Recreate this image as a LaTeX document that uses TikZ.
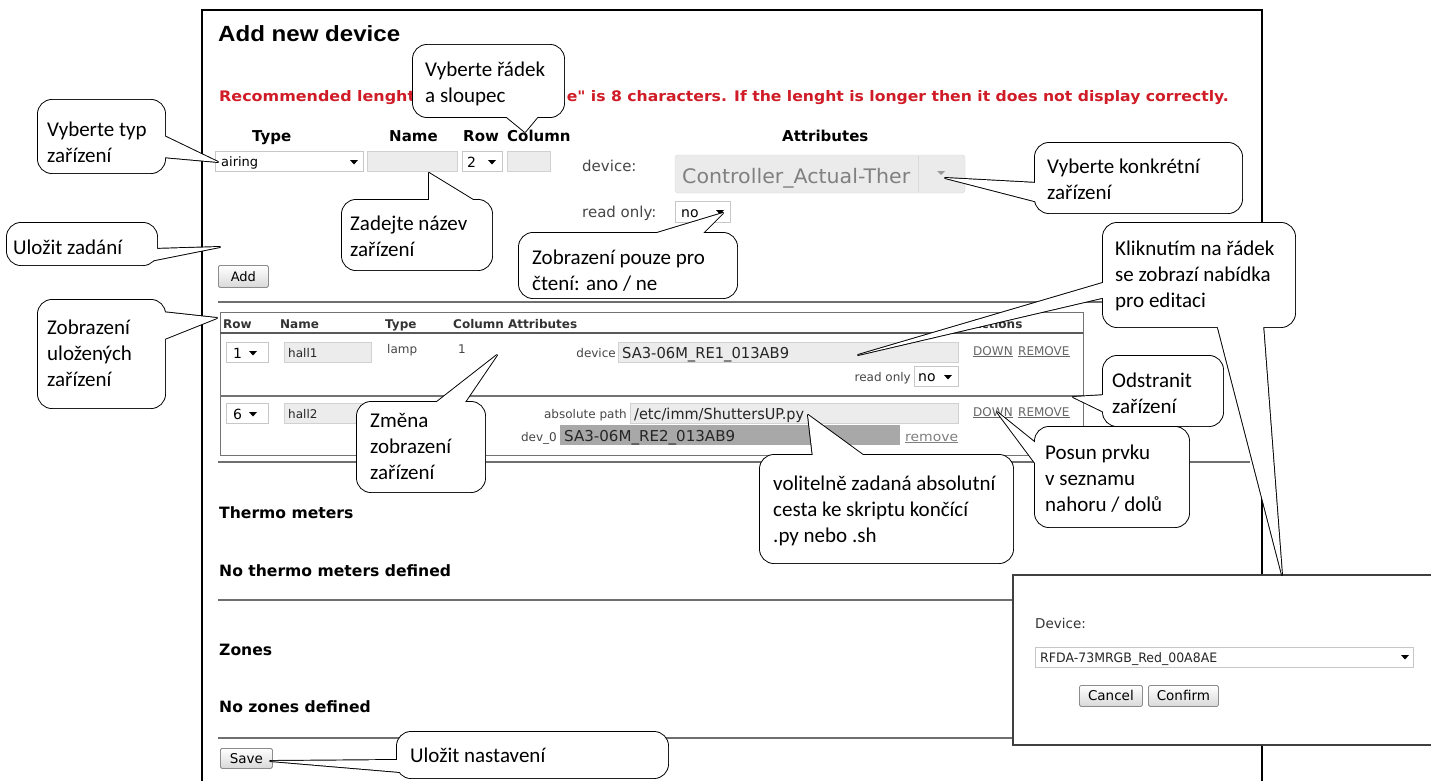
\documentclass[tikz,border=0pt]{standalone}
\usepackage{fontspec}
\usepackage{graphicx}
\setmainfont{Liberation Sans}
\newfontfamily\calfont{Carlito}
\newfontfamily\verfont{DejaVu Sans}
\usetikzlibrary{calc}
\definecolor{warnred}{RGB}{208,28,38}
\definecolor{sepgray}{RGB}{110,110,110}
\definecolor{fieldgray}{RGB}{236,236,236}
\definecolor{darkfield}{RGB}{168,168,168}
\definecolor{txtgray}{RGB}{70,70,70}
\newcommand\fitw[2]{\resizebox{#1pt}{\height}{#2}}
\newcommand\fs[2]{\fontsize{#1}{#2}\selectfont}
\newcommand\darr[3][black]{\fill[#1] ({#2-4},{#3-2}) -- ({#2+4},{#3-2}) -- (#2,{#3+2.5}) -- cycle;}
\newcommand\callout[2]{%
 \draw[cstroke, rounded corners=14pt] #1;
 \draw[cstroke] #2 -- cycle;
 \fill[white, rounded corners=14pt] #1;
 \fill[white] #2 -- cycle;}
\begin{document}
\begin{tikzpicture}[x=1pt, y=-1pt,
 cstroke/.style={draw=black, line width=1.9pt, line join=round},
 ctext/.style={font=\calfont\fs{21}{26}, align=left, inner sep=0pt, anchor=north west},
 ptxt/.style={inner sep=0pt, anchor=base west},
 field/.style={fill=fieldgray, draw=black!18, line width=0.8pt},
 sel/.style={fill=white, draw=black!22, line width=0.8pt},
 sepline/.style={draw=sepgray, line width=2.4pt},
 btn/.style={draw=black!45, line width=0.8pt, top color=white, bottom color=black!15, rounded corners=1.5pt, inner sep=0pt, anchor=north west},
 hdr/.style={inner sep=0pt, anchor=base west, font=\verfont\bfseries\fs{15}{18}},
 thdr/.style={inner sep=0pt, anchor=base west, font=\verfont\bfseries\fs{12}{14}, text=black!80},
 small/.style={inner sep=0pt, anchor=base west, font=\verfont\fs{12}{14}, text=txtgray},
 lbl/.style={inner sep=0pt, anchor=base east, font=\verfont\fs{12}{14}, text=txtgray},
 link/.style={inner sep=0pt, anchor=base west, font=\verfont\fs{12}{14}, text=black!60},
 big/.style={inner sep=0pt, anchor=base west, font=\verfont\bfseries\fs{15.6}{18}},
 warn/.style={inner sep=0pt, font=\verfont\bfseries\fs{14.5}{17}, text=warnred},
]
\useasboundingbox (0,0) rectangle (1431,781);
\fill[white] (0,0) rectangle (1431,781);

% page frame
\draw[line width=2pt] (202,783) -- (202,10) -- (1262,10) -- (1262,783);

% title and warning
\node[ptxt, font=\bfseries\fs{22}{26}] (title) at (218,42) {\fitw{182}{Add new device}};
\node[warn, anchor=base west] (warnA) at (219,102) {\fitw{196}{Recommended lenght}};
\node[warn, anchor=base east] (warnB) at (1229,102) {\fitw{662}{e" is 8 characters. If the lenght is longer then it does not display correctly.}};

% form header
\node[hdr] (hType) at (252,142) {Type};
\node[hdr] (hName) at (389,142) {Name};
\node[hdr] (hRow) at (463,142) {Row};
\node[hdr] (hCol) at (507,142) {Column};
\node[hdr] (hAttr) at (782,142) {Attributes};

% form inputs
\draw[sel] (215,151) rectangle (363,171);
\node[ptxt, font=\verfont\fs{13}{15}] (airing) at (221,166) {airing};
\darr{354}{162}
\draw[field] (367,151) rectangle (457,171);
\draw[sel] (462,151) rectangle (502,171);
\node[ptxt, font=\verfont\fs{14}{16}] (rowsel) at (467,167) {2};
\darr{492}{162}
\draw[field] (507,151) rectangle (550,171);

\node[ptxt, font=\verfont\fs{15}{18}, text=txtgray] (devl) at (582,171) {device:};
\draw[fill=black!8, draw=black!15, rounded corners=3pt] (675,155) rectangle (965,193);
\draw[black!15] (918,156) -- (918,192);
\node[ptxt, font=\verfont\fs{20}{24}, text=black!50] (ctrl) at (682,183) {\fitw{228}{Controller\_Actual-Ther}};
\fill[black!40] (937,171) -- (945,171) -- (941,175) -- cycle;
\node[ptxt, font=\verfont\fs{15}{18}, text=txtgray] (rol) at (582,217) {read only:};
\draw[sel] (675,201) rectangle (730,222);
\node[ptxt, font=\verfont\fs{14}{16}] (no1) at (681,217) {no};
\darr{720}{212}

\node[btn, minimum width=50pt, minimum height=22pt, font=\verfont\fs{13}{15}] (add) at (218,265) {Add};

% separators
\draw[sepline] (218,302) -- (1248,302);
\draw[sepline] (218,462) -- (1250,462);
\draw[sepline] (218,600) -- (1248,600);
\draw[sepline] (218,738) -- (1248,738);

% table
\draw[black!55, line width=1pt] (220,312) rectangle (1083,455);
\draw[black!65, line width=1.6pt] (220,333) -- (1083,333);
\draw[black!55, line width=1.6pt] (220,396) -- (1083,396);
\node[thdr] (tRow) at (223,328) {Row};
\node[thdr] (tName) at (280,328) {Name};
\node[thdr] (tType) at (385,328) {Type};
\node[thdr] (tCol) at (453,328) {Column};
\node[thdr] (tAttr) at (508,328) {Attributes};
\node[thdr] (tAct) at (972,328) {Actions};

% row 1
\draw[sel] (226,342) rectangle (268,362);
\node[ptxt, font=\verfont\fs{14}{16}] (r1n) at (233,358) {1};
\darr{253}{353}
\draw[field] (284,342) rectangle (371,362);
\node[small, text=black!85] (r1name) at (288,357) {hall1};
\node[small] (r1type) at (387,353) {lamp};
\node[small] (r1col) at (458,353) {1};
\node[lbl] (r1devl) at (616,357) {device};
\draw[field] (618,342) rectangle (958,362);
\node[ptxt, font=\verfont\fs{15}{18}, text=black!85] (r1dev) at (622,358) {\fitw{167}{SA3-06M\_RE1\_013AB9}};
\node[lbl] (r1rol) at (911,381) {read only};
\draw[sel] (914,366) rectangle (958,386);
\node[ptxt, font=\verfont\fs{14}{16}] (r1no) at (918,381) {no};
\darr{948}{377}
\node[link] (r1down) at (973,355) {\underline{DOWN}};
\node[link] (r1rem) at (1018,355) {\underline{REMOVE}};

% row 2
\draw[sel] (226,403) rectangle (268,423);
\node[ptxt, font=\verfont\fs{14}{16}] (r2n) at (233,419) {6};
\darr{253}{414}
\draw[field] (284,403) rectangle (371,423);
\node[small, text=black!85] (r2name) at (288,418) {hall2};
\node[lbl] (r2pathl) at (627,418) {absolute path};
\draw[field] (630,403) rectangle (958,423);
\node[ptxt, font=\verfont\fs{15}{18}, text=black!85] (r2path) at (634,419) {\fitw{170}{/etc/imm/ShuttersUP.py}};
\node[lbl] (r2devl) at (557,441) {dev\_0};
\fill[darkfield] (560,425) rectangle (900,445);
\node[ptxt, font=\verfont\fs{15}{18}, text=black!85] (r2dev) at (564,441) {\fitw{171}{SA3-06M\_RE2\_013AB9}};
\node[link, font=\verfont\fs{13}{15}, text=black!50] (r2rm) at (905,441) {\fitw{53}{\underline{remove}}};
\node[link] (r2down) at (973,416) {\underline{DOWN}};
\node[link] (r2rem) at (1018,416) {\underline{REMOVE}};

% lower sections
\node[big] (thermo) at (219,518) {Thermo meters};
\node[big] (nothermo) at (219,576) {No thermo meters defined};
\node[big] (zones) at (219,655) {Zones};
\node[big] (nozones) at (219,712) {No zones defined};
\node[btn, minimum width=52pt, minimum height=20pt, font=\verfont\fs{13.5}{15}] (save) at (220,748) {Save};

% popup
\draw[fill=white, draw=black!75, line width=1.5pt] (1013,575) rectangle (1433,745);
\node[ptxt, font=\verfont\fs{13.5}{16}, text=black!80] (pdev) at (1035,628) {Device:};
\draw[sel] (1035,647) rectangle (1413,667);
\node[ptxt, font=\verfont\fs{13}{15}, text=black!85] (psel) at (1040,662) {\fitw{177}{RFDA-73MRGB\_Red\_00A8AE}};
\darr{1405}{657}
\node[btn, minimum width=63pt, minimum height=21pt, font=\verfont\fs{13.5}{15}] (cancel) at (1079,685) {Cancel};
\node[btn, minimum width=70pt, minimum height=21pt, font=\verfont\fs{13.5}{15}] (confirm) at (1148,685) {Confirm};

% callouts
\callout{(38,100) rectangle (165,173)}{(162,135) -- (218,162) -- (162,157)}
\node[ctext] (cA) at (47,118) {\strut Vyberte typ\\zařízení};

\callout{(7,223) rectangle (157,265)}{(152,249) -- (220,247) -- (150,261)}
\node[ctext] (cB) at (13,236) {\strut Uložit zadání};

\callout{(342,200) rectangle (492,270)}{(429,203) -- (429,173) -- (478,203)}
\node[ctext] (cC) at (350,212) {\strut Zadejte název\\zařízení};

\callout{(413,45) rectangle (564,117)}{(503,114) -- (525,132) -- (540,114)}
\node[ctext] (cD) at (425,58) {\strut Vyberte řádek\\a sloupec};

\callout{(519,233) rectangle (737,298)}{(647,236) -- (723,213) -- (700,236)}
\node[ctext] (cE) at (532,246) {\strut Zobrazení pouze pro\\čtení: ano / ne};

\callout{(1035,143) rectangle (1242,213)}{(1038,183) -- (945,178) -- (1038,202)}
\node[ctext] (cF) at (1047,155) {\strut Vyberte konkrétní\\zařízení};

% callout with two pointers
\draw[cstroke, rounded corners=14pt] (1103,223) rectangle (1295,327);
\draw[cstroke] (1106,282) -- (858,355) -- (1106,297) -- cycle;
\draw[cstroke] (1217,324) -- (1282,575) -- (1263,324) -- cycle;
\fill[white, rounded corners=14pt] (1103,223) rectangle (1295,327);
\fill[white] (1106,282) -- (858,355) -- (1106,297) -- cycle;
\fill[white] (1217,324) -- (1282,575) -- (1263,324) -- cycle;
\node[ctext] (cG) at (1115,237) {\strut Kliknutím na řádek\\se zobrazí nabídka\\pro editaci};

\callout{(1103,356) rectangle (1223,426)}{(1106,395) -- (1073,397) -- (1106,413)}
\node[ctext] (cH) at (1112,369) {\strut Odstranit\\zařízení};

\callout{(1035,427) rectangle (1189,527)}{(1038,445) -- (997,412) -- (1038,467)}
\node[ctext] (cI) at (1045,441) {\strut Posun prvku\\v seznamu\\nahoru / dolů};

\callout{(357,402) rectangle (485,492)}{(433,405) -- (497,355) -- (463,405)}
\node[ctext] (cJ) at (370,409) {\strut Změna\\zobrazení\\zařízení};

\callout{(760,455) rectangle (1013,563)}{(813,458) -- (808,415) -- (867,458)}
\node[ctext] (cK) at (773,472) {\strut volitelně zadaná absolutní\\cesta ke skriptu končící\\.py nebo .sh};

\callout{(397,732) rectangle (668,778)}{(400,760) -- (270,761) -- (400,772)}
\node[ctext] (cL) at (410,744) {\strut Uložit nastavení};

\callout{(38,300) rectangle (165,408)}{(162,312) -- (217,318) -- (162,340)}
\node[ctext] (cM) at (47,316) {\strut Zobrazení\\uložených\\zařízení};
\end{tikzpicture}
\end{document}
